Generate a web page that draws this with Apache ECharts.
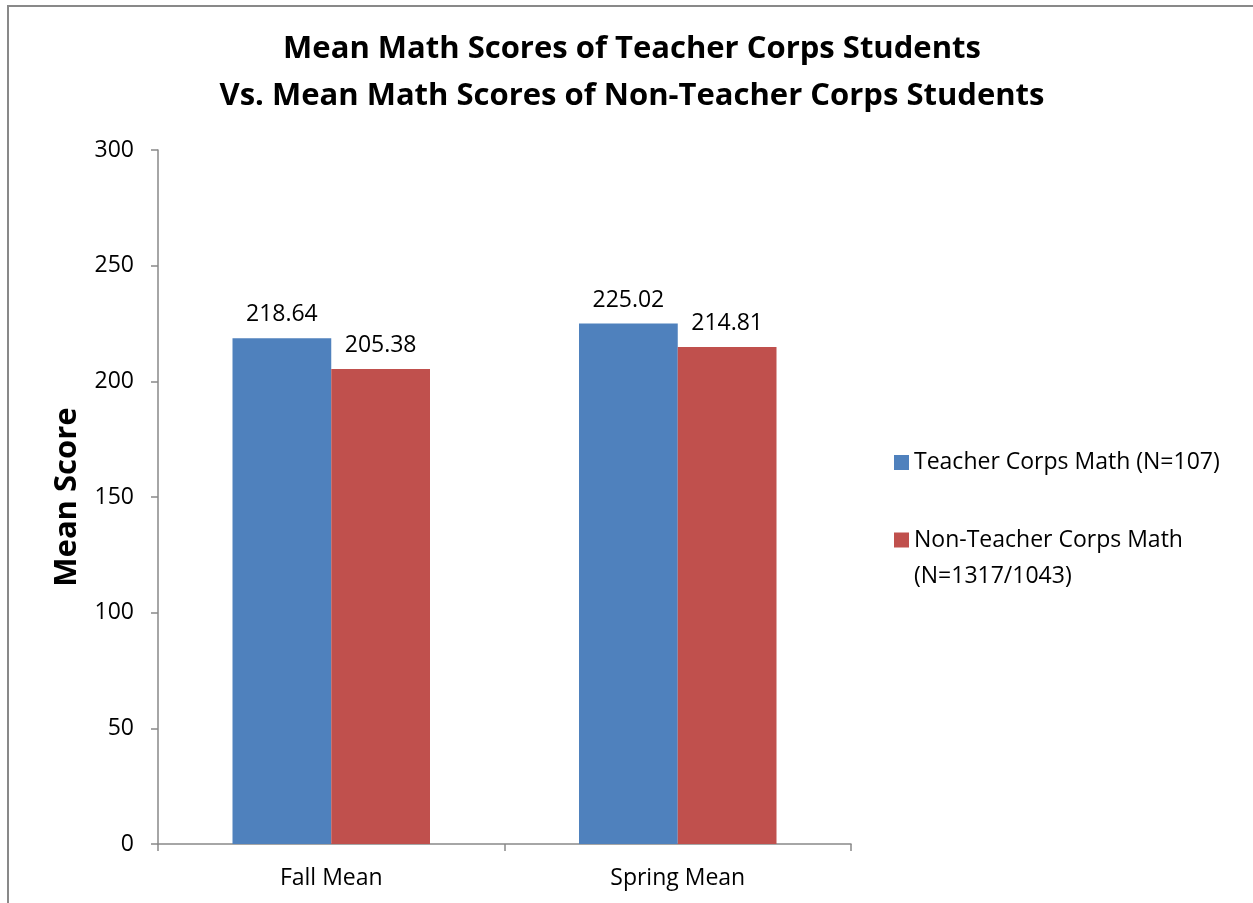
<!DOCTYPE html>
<html>
<head>
<meta charset="utf-8">
<script src="https://cdn.jsdelivr.net/npm/echarts@6/dist/echarts.min.js"></script>
<style>
  html, body { margin: 0; padding: 0; background: #fff; }
  #chart { width: 1253px; height: 903px; }
</style>
</head>
<body>
<div id="chart"></div>
<script>
// data
const categories = ["Fall Mean", "Spring Mean"];
const teacherCorps = [218.64, 225.02];
const nonTeacherCorps = [205.38, 214.81];
const seriesNames = ["Teacher Corps Math (N=107)", "Non-Teacher Corps Math (N=1317/1043)"];

const font = "Open Sans";
const chart = echarts.init(document.getElementById("chart"));

chart.setOption({
  animation: false,
  textStyle: { fontFamily: font },
  title: {
    text: "Mean Math Scores of Teacher Corps Students\nVs. Mean Math Scores of Non-Teacher Corps Students",
    left: 632,
    textAlign: "center",
    top: 26,
    padding: 0,
    textStyle: { fontSize: 31, fontWeight: "bold", color: "#000", lineHeight: 47, fontFamily: font }
  },
  graphic: [
    {
      type: "rect",
      shape: { x: 8, y: 6, width: 1260, height: 920 },
      style: { fill: "none", stroke: "#898989", lineWidth: 2 },
      silent: true
    }
  ],
  grid: { left: 158, right: 402, top: 150, bottom: 59 },
  legend: [
    {
      data: [seriesNames[0]],
      left: 894,
      top: 451,
      padding: 0,
      itemWidth: 15,
      itemHeight: 15,
      icon: "rect",
      textStyle: { fontSize: 23, color: "#000", fontFamily: font }
    },
    {
      data: [seriesNames[1]],
      left: 894,
      top: 486,
      padding: 0,
      itemWidth: 15,
      itemHeight: 15,
      icon: "rect",
      // blank first line so the first text line sits beside the icon
      formatter: () => "\nNon-Teacher Corps Math\n(N=1317/1043)",
      textStyle: { fontSize: 23, color: "#000", lineHeight: 36, fontFamily: font }
    }
  ],
  xAxis: {
    type: "category",
    data: categories,
    axisLine: { lineStyle: { color: "#898989", width: 1.5 } },
    axisTick: { show: true, length: 7, lineStyle: { color: "#898989", width: 1.5 } },
    axisLabel: { fontSize: 23, color: "#000", margin: 23, fontFamily: font }
  },
  yAxis: {
    type: "value",
    min: 0,
    max: 300,
    interval: 50,
    name: "Mean Score",
    nameLocation: "middle",
    nameGap: 75,
    nameTextStyle: { fontSize: 31, fontWeight: "bold", color: "#000", fontFamily: font },
    axisLine: { show: true, lineStyle: { color: "#898989", width: 1.5 } },
    axisTick: { show: true, length: 7, lineStyle: { color: "#898989", width: 1.5 } },
    axisLabel: { fontSize: 23, color: "#000", margin: 24, fontFamily: font },
    splitLine: { show: false }
  },
  series: [
    {
      name: seriesNames[0],
      type: "bar",
      data: teacherCorps,
      barGap: "0%",
      barCategoryGap: "43%",
      itemStyle: { color: "#4F81BD" },
      label: { show: true, position: "top", distance: 12, fontSize: 23, color: "#000", fontFamily: font }
    },
    {
      name: seriesNames[1],
      type: "bar",
      data: nonTeacherCorps,
      itemStyle: { color: "#C0504D" },
      label: { show: true, position: "top", distance: 12, fontSize: 23, color: "#000", fontFamily: font }
    }
  ]
});
</script>
</body>
</html>
